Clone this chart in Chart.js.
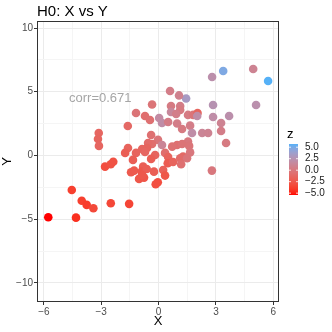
<!DOCTYPE html>
<html>
<head>
<meta charset="utf-8">
<script src="https://cdn.jsdelivr.net/npm/chart.js@4"></script>
<style>
  html, body { margin: 0; padding: 0; background: #fff; }
  #wrap { width: 332px; height: 332px; }
</style>
</head>
<body>
<div id="wrap"><canvas id="myChart" width="332" height="332"></canvas></div>
<script>
/* Data */
const xVals = [3.38, 2.80, 4.95, 5.73, 5.10, 2.85, 1.44, 0.60, 1.07, -0.34, 0.65, 1.13, 1.13, 0.65, 0.92, -1.18, -0.71, 0.03, -0.45, 0.18,
  0.50, 0.97, 1.54, 1.81, 2.04, 2.02, 2.85, 3.69, 3.27, 1.23, 1.65, 3.27, 1.75, 2.28, 2.59, 3.53, -1.61, -0.39, -0.03, -0.34,
  -0.55, 0.18, -0.60, 1.54, 1.60, 0.97, 1.23, 0.71, -1.60, -0.86, -1.75, -1.18, -0.71, 0.34, 1.65, -0.18, 1.28, 0.50, -1.34, -3.13,
  -3.17, -3.12, -0.39, 0.48, 0.76, 1.13, 1.49, 1.18, -0.81, -1.44, -1.28, -0.88, -0.62, -0.24, 0.24, 0.34, -1.02, -0.76, -0.86, -0.15,
  -0.04, -1.54, -2.80, -2.50, -2.37, -4.54, -4.02, -3.76, -3.41, -2.50, -5.77, -4.32, 2.79];
const yVals = [6.63, 6.16, 6.78, 5.84, 3.96, 3.96, 4.47, 5.06, 4.71, 4.00, 3.88, 3.88, 3.57, 3.41, 3.25, 3.33, 3.10, 2.94, 2.78, 2.55,
  2.63, 2.51, 3.18, 3.18, 3.33, 3.10, 3.02, 3.10, 2.55, 2.08, 2.34, 1.92, 1.76, 1.76, 1.76, 0.98, 2.31, 1.61, 1.22, 0.90,
  0.98, 0.82, 0.59, 1.10, 0.75, 0.82, 0.90, 0.69, 0.59, 0.51, 0.20, 0.20, 0.27, 0.20, 0.24, 0.04, -0.09, -0.12, -0.35, 1.76,
  1.29, 0.75, -0.27, -0.61, -0.51, -0.22, -0.22, -0.69, -0.88, -1.32, -1.19, -1.27, -1.06, -1.27, -1.14, -1.58, -1.84, -1.74, -1.53, -2.26,
  -2.10, -3.80, -0.88, -0.69, -0.49, -2.71, -3.55, -3.88, -4.14, -3.75, -4.85, -4.88, -1.19];
const zVals = [4.8, 2.2, 1.0, 5.7, 2.3, 2.5, 3.3, 0.5, 0.8, -0.3, 0.3, 0.5, 0.2, 1.5, 0.6, -0.3, -0.8, 1.8, -0.6, 2.0,
  0.4, 0.5, 0.3, -0.2, -1.5, 2.0, 2.0, 2.2, 1.0, 0.2, 0.5, 0.5, 2.0, 1.2, 1.0, 0.2, -1.2, -0.6, -0.2, -0.8,
  -1.0, 1.2, -1.5, 0.0, -0.2, -0.6, -0.3, -0.5, -1.6, -1.5, -2.0, -1.6, -1.4, -0.8, 0.0, -1.5, -1.2, -1.6, -2.0, -1.4,
  -1.5, -1.4, -2.0, -2.2, -1.6, -1.0, -0.2, -0.6, -2.0, -2.3, -2.3, -2.4, -2.0, -2.0, -1.8, -2.5, -2.5, -2.6, -2.4, -3.0,
  -3.0, -3.5, -3.0, -2.8, -2.8, -3.8, -3.8, -4.0, -3.3, -3.4, -5.4, -4.5, 0.0];

const xTicks = [-6, -3, 0, 3, 6];
const yTicks = [-10, -5, 0, 5, 10];
const zBreaks = [5, 2.5, 0, -2.5, -5];
const zMin = -5.4, zMax = 5.7;
const corrLabel = 'corr=0.671';

/* Colour scale: red -> light blue, interpolated in Lab */
function hexToRgb(h) {
  return [parseInt(h.slice(1, 3), 16), parseInt(h.slice(3, 5), 16), parseInt(h.slice(5, 7), 16)];
}
function toLab(rgb) {
  const lin = rgb.map(function (c) {
    c /= 255;
    return c <= 0.04045 ? c / 12.92 : Math.pow((c + 0.055) / 1.055, 2.4);
  });
  let X = (lin[0] * 0.4124 + lin[1] * 0.3576 + lin[2] * 0.1805) / 0.95047;
  let Y = (lin[0] * 0.2126 + lin[1] * 0.7152 + lin[2] * 0.0722);
  let Z = (lin[0] * 0.0193 + lin[1] * 0.1192 + lin[2] * 0.9505) / 1.08883;
  const f = function (t) { return t > 0.008856 ? Math.cbrt(t) : 7.787 * t + 16 / 116; };
  X = f(X); Y = f(Y); Z = f(Z);
  return [116 * Y - 16, 500 * (X - Y), 200 * (Y - Z)];
}
function fromLab(lab) {
  let Y = (lab[0] + 16) / 116;
  let X = lab[1] / 500 + Y;
  let Z = Y - lab[2] / 200;
  const f = function (t) { return t * t * t > 0.008856 ? t * t * t : (t - 16 / 116) / 7.787; };
  X = f(X) * 0.95047; Y = f(Y); Z = f(Z) * 1.08883;
  const r = X * 3.2406 + Y * -1.5372 + Z * -0.4986;
  const g = X * -0.9689 + Y * 1.8758 + Z * 0.0415;
  const b = X * 0.0557 + Y * -0.2040 + Z * 1.0570;
  return [r, g, b].map(function (c) {
    c = c > 0.0031308 ? 1.055 * Math.pow(c, 1 / 2.4) - 0.055 : 12.92 * c;
    return Math.round(Math.max(0, Math.min(1, c)) * 255);
  });
}
const labLow = toLab(hexToRgb('#FF0000'));
const labHigh = toLab(hexToRgb('#56B1F7'));
function zColour(z) {
  const t = Math.max(0, Math.min(1, (z - zMin) / (zMax - zMin)));
  const c = fromLab([0, 1, 2].map(function (i) { return labLow[i] + (labHigh[i] - labLow[i]) * t; }));
  return 'rgb(' + c.join(',') + ')';
}

const points = xVals.map(function (x, i) { return { x: x, y: yVals[i] }; });
const pointColours = zVals.map(zColour);

function fmt(v) {
  return String(v).replace('-', '\u2212');
}
function fmtZ(v) {
  return v.toFixed(1).replace('-', '\u2212');
}

/* Extra drawing: title, panel border, annotation, colour bar */
const decor = {
  id: 'decor',
  afterDatasetsDraw: function (chart) {
    const c = chart.ctx;
    const a = chart.chartArea;
    const sx = chart.scales.x, sy = chart.scales.y;
    c.save();
    c.font = '13px "Liberation Sans", Arial, sans-serif';
    c.fillStyle = '#A6A6A6';
    c.textAlign = 'center';
    c.textBaseline = 'middle';
    c.fillText(corrLabel, sx.getPixelForValue(-3.05), sy.getPixelForValue(4.45));

    c.strokeStyle = '#333333';
    c.lineWidth = 1;
    c.strokeRect(a.left + 0.5, a.top + 0.5, a.right - a.left - 1, a.bottom - a.top - 1);
    c.restore();
  },
  afterDraw: function (chart) {
    const c = chart.ctx;
    c.save();
    c.fillStyle = '#000';
    c.font = '15px "Liberation Sans", Arial, sans-serif';
    c.textAlign = 'left';
    c.textBaseline = 'alphabetic';
    c.fillText('H0: X vs Y', 37, 16);

    // colour bar legend
    const barX = 289, barW = 9, barTop = 144, barBot = 195;
    c.font = '13px "Liberation Sans", Arial, sans-serif';
    c.fillText('z', 287, 138);
    for (let py = barTop; py < barBot; py++) {
      const z = zMax - (py + 0.5 - barTop) / (barBot - barTop) * (zMax - zMin);
      c.fillStyle = zColour(z);
      c.fillRect(barX, py, barW, 1);
    }
    c.font = '10px "Liberation Sans", Arial, sans-serif';
    c.textBaseline = 'middle';
    zBreaks.forEach(function (z) {
      const py = barTop + (zMax - z) / (zMax - zMin) * (barBot - barTop);
      c.strokeStyle = 'rgba(255,255,255,0.8)';
      c.beginPath();
      c.moveTo(barX, py); c.lineTo(barX + 2, py);
      c.moveTo(barX + barW - 2, py); c.lineTo(barX + barW, py);
      c.stroke();
      c.fillStyle = '#1A1A1A';
      c.fillText(fmtZ(z), 305, py);
    });
    c.restore();
  }
};

function gridColour(ticks) {
  return function (ctx) {
    return ticks.includes(ctx.tick.value) ? '#EBEBEB' : '#F5F5F5';
  };
}
function tickColour(ticks) {
  return function (ctx) {
    return ticks.includes(ctx.tick.value) ? '#333333' : 'rgba(0,0,0,0)';
  };
}

var ctx = document.getElementById('myChart').getContext('2d');

var chart = new Chart(ctx, {
  type: 'scatter',
  data: {
    datasets: [{
      data: points,
      backgroundColor: pointColours,
      borderWidth: 0,
      pointRadius: 4.3,
      pointHoverRadius: 4.3
    }]
  },
  options: {
    responsive: false,
    animation: false,
    devicePixelRatio: 1,
    layout: { padding: { top: 21, right: 53, left: 0, bottom: 0 } },
    plugins: {
      legend: { display: false },
      tooltip: { enabled: false }
    },
    scales: {
      x: {
        type: 'linear',
        min: -6.36,
        max: 6.3,
        afterBuildTicks: function (scale) {
          scale.ticks = [-6, -4.5, -3, -1.5, 0, 1.5, 3, 4.5, 6].map(function (v) { return { value: v }; });
        },
        afterFit: function (scale) { scale.height = 30; },
        border: { display: false },
        grid: { color: gridColour(xTicks), tickColor: tickColour(xTicks), tickLength: 3, lineWidth: 1 },
        ticks: {
          autoSkip: false,
          maxRotation: 0,
          padding: 1,
          color: '#4D4D4D',
          font: { size: 10, family: '"Liberation Sans", Arial, sans-serif' },
          callback: function (v) { return xTicks.includes(v) ? fmt(v) : ''; }
        },
        title: {
          display: true,
          text: 'X',
          color: '#000',
          padding: { top: 0, bottom: 3 },
          font: { size: 13, family: '"Liberation Sans", Arial, sans-serif' }
        }
      },
      y: {
        type: 'linear',
        min: -11.5,
        max: 10.55,
        afterBuildTicks: function (scale) {
          scale.ticks = [-10, -7.5, -5, -2.5, 0, 2.5, 5, 7.5, 10].map(function (v) { return { value: v }; });
        },
        afterFit: function (scale) { scale.width = 37; },
        border: { display: false },
        grid: { color: gridColour(yTicks), tickColor: tickColour(yTicks), tickLength: 3, lineWidth: 1 },
        ticks: {
          autoSkip: false,
          padding: 1,
          color: '#4D4D4D',
          font: { size: 10, family: '"Liberation Sans", Arial, sans-serif' },
          callback: function (v) { return yTicks.includes(v) ? fmt(v) : ''; }
        },
        title: {
          display: true,
          text: 'Y',
          color: '#000',
          padding: { top: 0, bottom: 0 },
          font: { size: 13, family: '"Liberation Sans", Arial, sans-serif' }
        }
      }
    }
  },
  plugins: [decor]
});
</script>
</body>
</html>
